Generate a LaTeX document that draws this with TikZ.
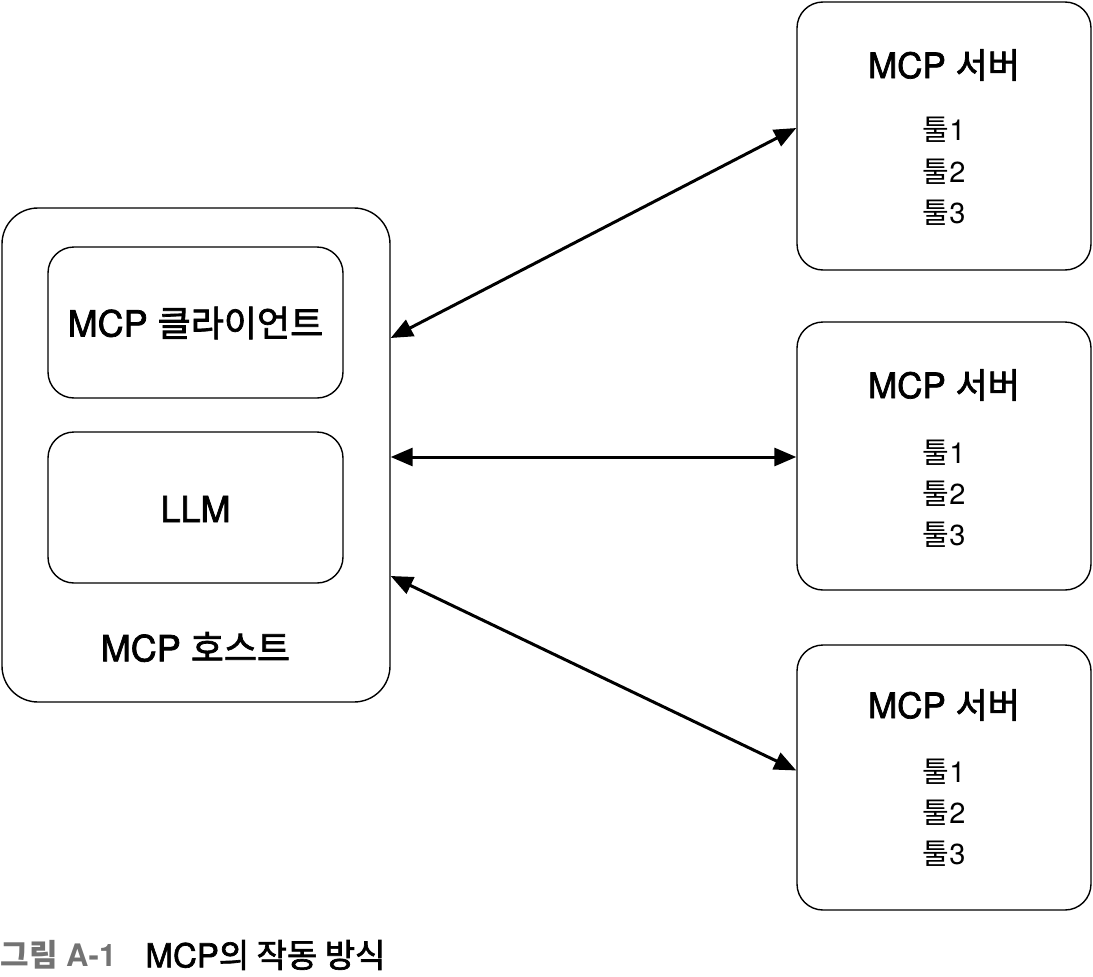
\documentclass[tikz,border=0pt]{standalone}
\usepackage{fontspec}
\setmainfont{TeX Gyre Heros}
\newfontfamily\kr{Noto Sans CJK KR}
\newfontfamily\hm{TeX Gyre Heros}[FakeBold=2]
\newfontfamily\krm{Noto Sans CJK KR}[FakeBold=2]
\usetikzlibrary{arrows.meta}
\begin{document}
\begin{tikzpicture}[x=1pt,y=-1pt,
  box/.style={draw=black,line width=1.4pt,rounded corners=26pt,inner sep=0pt},
  outer/.style={draw=black,line width=1.4pt,rounded corners=36pt,inner sep=0pt},
  conn/.style={line width=3pt,{Triangle[length=22pt,width=18pt]}-{Triangle[length=22pt,width=18pt]}},
  bigtxt/.style={font=\fontsize{36}{42}\hm},
  srvtitle/.style={font=\fontsize{35}{40}\hm},
  tooltxt/.style={font=\fontsize{29}{33}\selectfont},
  captxt/.style={font=\fontsize{33}{38}\selectfont,anchor=west}]
\useasboundingbox (0,0) rectangle (1093,977);
% host and inner boxes
\node[outer,minimum width=388pt,minimum height=494pt] (host) at (196,455) {};
\node[box,minimum width=295pt,minimum height=151pt] (client) at (195.5,322.5) {};
\node[box,minimum width=295pt,minimum height=151pt] (llm) at (195.5,507.5) {};
\node[bigtxt] (clientt) at (195.5,323) {MCP {\krm 클라이언트}};
\node[bigtxt] (llmt) at (195.5,509) {LLM};
\node[bigtxt] (hostt) at (195.5,647) {MCP {\krm 호스트}};
% servers
\node[box,minimum width=294pt,minimum height=268pt] (s1) at (944,136) {};
\node[box,minimum width=294pt,minimum height=268pt] (s2) at (944,456) {};
\node[box,minimum width=294pt,minimum height=265pt] (s3) at (944,777.5) {};
\node[srvtitle] (s1t) at (944,65) {MCP {\krm 서버}};
\node[tooltxt] (s1a) at (944,130) {{\kr 툴}1};
\node[tooltxt] (s1b) at (944,172) {{\kr 툴}2};
\node[tooltxt] (s1c) at (944,213) {{\kr 툴}3};
\node[srvtitle] (s2t) at (944,385) {MCP {\krm 서버}};
\node[tooltxt] (s2a) at (944,453) {{\kr 툴}1};
\node[tooltxt] (s2b) at (944,494) {{\kr 툴}2};
\node[tooltxt] (s2c) at (944,535) {{\kr 툴}3};
\node[srvtitle] (s3t) at (944,705) {MCP {\krm 서버}};
\node[tooltxt] (s3a) at (944,772) {{\kr 툴}1};
\node[tooltxt] (s3b) at (944,813) {{\kr 툴}2};
\node[tooltxt] (s3c) at (944,854) {{\kr 툴}3};
% connectors
\coordinate (h1) at ([yshift=117pt]host.east);
\coordinate (h2) at ([yshift=-2pt]host.east);
\coordinate (h3) at ([yshift=-121pt]host.east);
\draw[conn] (h1) -- ([yshift=8pt]s1.west);
\draw[conn] (h2) -- ([yshift=-1pt]s2.west);
\draw[conn] (h3) -- ([yshift=7pt]s3.west);
% caption
\node[captxt,text=black!55,font=\fontsize{31}{36}\selectfont\bfseries] (capa) at (-3,955) {{\kr\bfseries 그림} A-1};
\node[captxt] (capb) at (142,955) {{\hm MCP}{\krm 의 작동 방식}};
\end{tikzpicture}
\end{document}
